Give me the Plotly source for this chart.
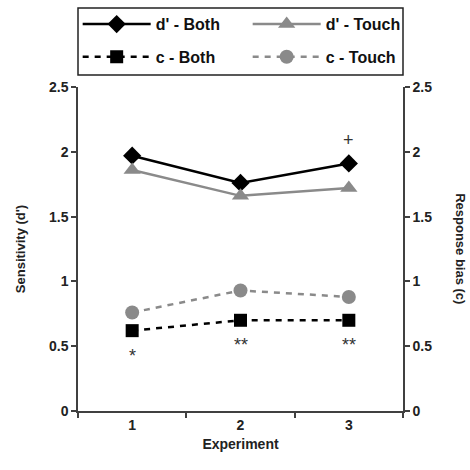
import plotly.graph_objects as go

experiments = ["1", "2", "3"]
d_both = [1.97, 1.76, 1.91]
d_touch = [1.86, 1.66, 1.72]
c_both = [0.62, 0.70, 0.70]
c_touch = [0.76, 0.93, 0.88]
tick_vals = [0, 0.5, 1, 1.5, 2, 2.5]
tick_text = ["0", "0.5", "1", "1.5", "2", "2.5"]
sig_marks = [("3", 1.91, "+", 23), ("1", 0.62, "*", -25), ("2", 0.70, "**", -25), ("3", 0.70, "**", -25)]

BLACK = "#000000"
GRAY = "#8a8a8a"
AX = "#404040"
FONT = "Liberation Sans"
BOLD = dict(family=FONT, size=14, color="#222222", weight="bold")
LEGFONT = dict(family=FONT, size=16, color="#111111", weight="bold")

fig = go.Figure()
fig.add_trace(go.Scatter(x=experiments, y=d_both, name="d' - Both", mode="lines+markers",
                         line=dict(color=BLACK, width=2.5),
                         marker=dict(symbol="diamond", size=14, color=BLACK), legend="legend"))
fig.add_trace(go.Scatter(x=experiments, y=d_touch, name="d' - Touch", mode="lines+markers",
                         line=dict(color=GRAY, width=2.5),
                         marker=dict(symbol="triangle-up", size=15, color=GRAY), legend="legend"))
fig.add_trace(go.Scatter(x=experiments, y=c_both, name="c - Both", mode="lines+markers",
                         line=dict(color=BLACK, width=2.5, dash="6px,6px"),
                         marker=dict(symbol="square", size=13, color=BLACK), yaxis="y2", legend="legend2"))
fig.add_trace(go.Scatter(x=experiments, y=c_touch, name="c - Touch", mode="lines+markers",
                         line=dict(color=GRAY, width=2.5, dash="6px,6px"),
                         marker=dict(symbol="circle", size=14, color=GRAY), yaxis="y2", legend="legend2"))

for x, y, t, s in sig_marks:
    fig.add_annotation(x=experiments.index(x), y=y, text=t, showarrow=False, yshift=s,
                       font=dict(family=FONT, size=18, color="#333333"))

fig.add_annotation(xref="paper", yref="paper", x=1.178, xanchor="center", y=0.5, text="Response bias (c)",
                   textangle=90, showarrow=False, font=dict(family=FONT, size=13, color="#222222", weight="bold"))

# legend frame
fig.add_shape(type="rect", xref="paper", yref="paper", x0=0, x1=1, y0=1.037, y1=1.244,
              line=dict(color="#222222", width=1.5), fillcolor="rgba(0,0,0,0)")

axis_common = dict(range=[0, 2.5], tickvals=tick_vals, ticktext=tick_text, showgrid=False,
                   zeroline=False, showline=True, linecolor=AX, linewidth=1.5,
                   ticks="outside", ticklen=5, tickcolor=AX, tickwidth=1.5,
                   tickfont=BOLD)

leg_common = dict(orientation="h", x=-0.001, xanchor="left", yanchor="middle",
                  entrywidth=87, entrywidthmode="pixels", itemwidth=68,
                  borderwidth=0, bgcolor="rgba(0,0,0,0)", font=LEGFONT)

fig.update_layout(
    width=470, height=470,
    margin=dict(l=78, r=67, t=87, b=59, autoexpand=False),
    paper_bgcolor="white", plot_bgcolor="white",
    font=dict(family=FONT, color="#222222"),
    xaxis=dict(type="category", range=[-0.5, 2.5], showgrid=False, zeroline=False,
               showline=True, linecolor=AX, linewidth=1.5, ticks="outside", tickson="boundaries",
               ticklen=5, tickcolor=AX, tickwidth=1.5, tickfont=BOLD,
               title=dict(text="Experiment", font=BOLD, standoff=8)),
    yaxis=dict(**axis_common, title=dict(text="Sensitivity (d')", font=dict(family=FONT, size=13, weight="bold"), standoff=20)),
    yaxis2=dict(**axis_common, overlaying="y", side="right"),
    showlegend=True,
    legend=dict(**leg_common, y=1.194),
    legend2=dict(**leg_common, y=1.093),
)

fig.write_html("out.html", config={"displayModeBar": False},
               post_script="document.body.style.margin='0';")
